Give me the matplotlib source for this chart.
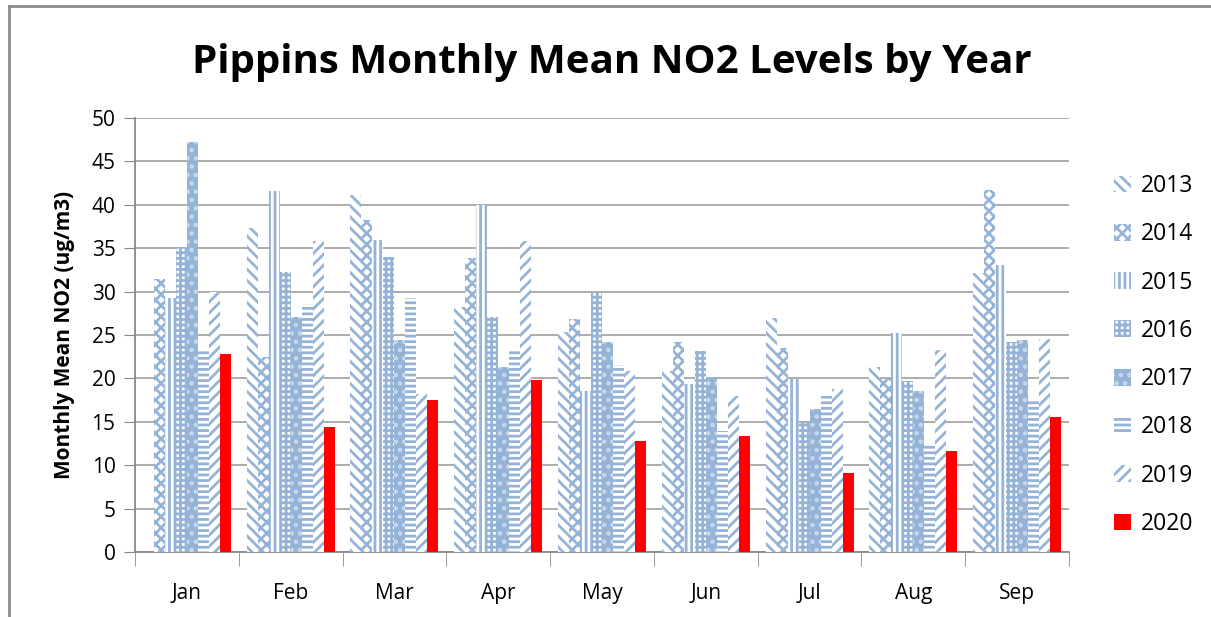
import matplotlib.pyplot as plt
import matplotlib.patches as mpatches
import numpy as np

months = ['Jan', 'Feb', 'Mar', 'Apr', 'May', 'Jun', 'Jul', 'Aug', 'Sep']
years = ['2013', '2014', '2015', '2016', '2017', '2018', '2019', '2020']

y2013 = [np.nan, 37.3, 41.1, 28.2, 25.4, 20.9, 27.0, 21.3, 32.2]
y2014 = [31.5, 22.5, 38.2, 33.9, 26.9, 24.2, 23.5, 19.9, 41.7]
y2015 = [29.3, 41.6, 35.9, 40.0, 18.5, 19.3, 19.9, 25.2, 33.1]
y2016 = [35.1, 32.3, 34.0, 27.1, 29.8, 23.1, 14.9, 19.7, 24.2]
y2017 = [47.2, 27.1, 24.4, 21.3, 24.2, 20.2, 16.5, 18.5, 24.4]
y2018 = [23.4, 28.6, 29.3, 23.3, 21.5, 13.9, 18.0, 12.6, 17.5]
y2019 = [30.0, 35.8, 18.2, 35.8, 20.8, 18.0, 18.8, 23.3, 24.5]
y2020 = [22.8, 14.4, 17.5, 19.8, 12.8, 13.4, 9.1, 11.6, 15.6]
series = [y2013, y2014, y2015, y2016, y2017, y2018, y2019, y2020]

blue = '#95B3D7'
# (facecolor, hatch colour, hatch)
styles = [
    ('white', blue, '\\\\\\'),
    ('white', blue, 'xxx'),
    ('white', blue, '|||'),
    ('white', blue, '+++'),
    (blue, '#C8D8EC', '..'),
    ('white', blue, '---'),
    ('white', blue, '///'),
    ('#FF0000', '#FF0000', None),
]

plt.rcParams['font.family'] = ['Open Sans', 'DejaVu Sans']
plt.rcParams['hatch.linewidth'] = 2.0

fig = plt.figure(figsize=(12.11, 6.17), dpi=100)
ax = fig.add_axes([135/1211, 1 - 552/617, 934/1211, 434/617])

x = np.arange(len(months))
w = 0.106
handles = []
for i, (vals, (fc, hc, h)) in enumerate(zip(series, styles)):
    pos = x - 3.5*w + i*w
    ax.bar(pos, vals, width=w, facecolor=fc, edgecolor=hc, hatch=h,
           linewidth=0, zorder=3)
    handles.append(mpatches.Patch(facecolor=fc, edgecolor=hc, hatch=h,
                                  linewidth=0, label=years[i]))

ax.set_xlim(-0.5, len(months) - 0.5)
ax.set_ylim(0, 50)
ax.set_yticks(np.arange(0, 51, 5))
ax.set_xticks(x)
ax.set_xticklabels(months, fontsize=15)
ax.set_xticks(np.arange(-0.5, len(months)), minor=True)
ax.tick_params(axis='x', which='major', length=0, pad=22)
ax.tick_params(axis='x', which='minor', length=10, color='#888888')
ax.tick_params(axis='y', length=8, color='#888888', labelsize=15, pad=6)
ax.grid(axis='y', color='#A6A6A6', linewidth=1.3, zorder=0)
ax.set_axisbelow(True)
for s in ['top', 'right']:
    ax.spines[s].set_visible(False)
for s in ['left', 'bottom']:
    ax.spines[s].set_color('#888888')
    ax.spines[s].set_linewidth(1.3)

ax.set_ylabel('Monthly Mean NO2 (ug/m3)', fontsize=15, fontweight='bold', labelpad=12)
fig.text(0.505, 1 - 62/617, 'Pippins Monthly Mean NO2 Levels by Year',
         fontsize=29, fontweight='bold', ha='center', va='center')

leg = fig.legend(handles=handles, loc='center left',
                 bbox_to_anchor=(1093/1211, 1 - 355/617), frameon=False,
                 fontsize=16.5, labelspacing=1.06, handlelength=0.75,
                 handleheight=0.75, handletextpad=0.45)

# chart border
fig.add_artist(plt.Line2D([9/1211, 9/1211], [0, 1 - 6/617], color='#8C8C8C',
                          linewidth=2, transform=fig.transFigure))
fig.add_artist(plt.Line2D([9/1211, 1], [1 - 6/617, 1 - 6/617], color='#8C8C8C',
                          linewidth=2, transform=fig.transFigure))

fig.savefig('out.png', dpi=100)
